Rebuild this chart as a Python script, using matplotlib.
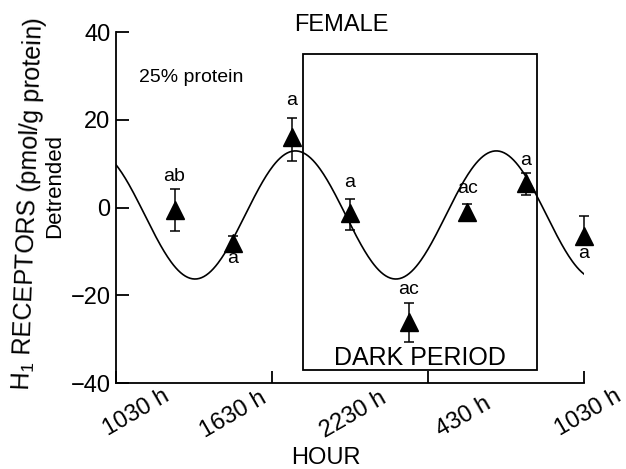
import numpy as np
import matplotlib
matplotlib.use("Agg")
import matplotlib.pyplot as plt
from matplotlib.patches import Rectangle

plt.rcParams['font.family'] = ['Liberation Sans', 'DejaVu Sans']
plt.rcParams['mathtext.fontset'] = 'custom'
plt.rcParams['mathtext.rm'] = 'Liberation Sans'

# sampling times, hours after 1030 h
hours = [3, 6, 9, 12, 15, 18, 21, 24]
means = [-0.6, -8.1, 16.0, -1.25, -26.1, -1.0, 5.6, -6.5]
err_hi = [4.8, 1.6, 4.4, 3.15, 4.3, 1.8, 2.2, 4.6]
err_lo = [4.8, 1.4, 5.4, 3.85, 4.6, 1.8, 2.8, 1.5]
letters = ['ab', 'a', 'a', 'a', 'ac', 'ac', 'a', 'a']
letter_y = [7.0, -11.7, 24.5, 5.6, -18.6, 4.4, 10.8, -10.4]

# fitted cosinor
mesor = -1.7
amplitude = 14.6
period = 10.3
acrophase = 9.2

dark_start, dark_end = 9.6, 21.6
dark_low, dark_high = -37, 35

tick_labels = ['1030 h', '1630 h', '2230 h', '430 h', '1030 h']

fig = plt.figure(figsize=(6.26, 4.69), dpi=100)
ax = fig.add_axes([116/626, 1-383/469, 468/626, 351/469])

t = np.linspace(0, 24, 400)
ax.plot(t, mesor + amplitude*np.cos(2*np.pi*(t - acrophase)/period), color='black', lw=1.2)

ax.errorbar(hours, means, yerr=[err_lo, err_hi], fmt='^', color='black',
            markersize=12.5, capsize=3.6, elinewidth=1.1, capthick=1.1, clip_on=False)

for h, s, y in zip(hours, letters, letter_y):
    ax.text(h, y, s, ha='center', va='center', fontsize=14)

ax.add_patch(Rectangle((dark_start, dark_low), dark_end-dark_start, dark_high-dark_low,
                       fill=False, lw=1.3, ec='black'))
ax.text((dark_start+dark_end)/2, -34.3, 'DARK PERIOD', ha='center', va='center', fontsize=18)
ax.text(3.85, 29.7, '25% protein', ha='center', va='center', fontsize=14)

ax.set_xlim(0, 24)
ax.set_ylim(-40, 40)
ax.spines['top'].set_visible(False)
ax.spines['right'].set_visible(False)
ax.spines['left'].set_linewidth(1.3)
ax.spines['bottom'].set_linewidth(1.3)
ax.set_yticks([-40, -20, 0, 20, 40])
ax.set_xticks([0, 8, 16, 24])
ax.set_xticklabels([])
ax.tick_params(direction='in', length=9, width=1.3, labelsize=17, pad=4)

# rotated hour labels
label_xy = [(173, 385), (270, 387), (390, 387), (495, 393), (625, 385)]
for s, (px, py) in zip(tick_labels, label_xy):
    fig.text(px/626, 1-py/469, s, rotation=30, ha='right', va='top', fontsize=17)

fig.text(326/626, 1-458/469, 'HOUR', ha='center', va='center', fontsize=17)
fig.text(341/626, 1-25/469, 'FEMALE', ha='center', va='center', fontsize=17)
fig.text(29/626, 1-204/469, r'H$_1$ RECEPTORS (pmol/g protein)', rotation=88,
         ha='center', va='center', fontsize=18, rotation_mode='anchor')
fig.text(55/626, 1-186/469, 'Detrended', rotation=90, ha='center', va='center', fontsize=16)

fig.savefig('out.png', dpi=100)
